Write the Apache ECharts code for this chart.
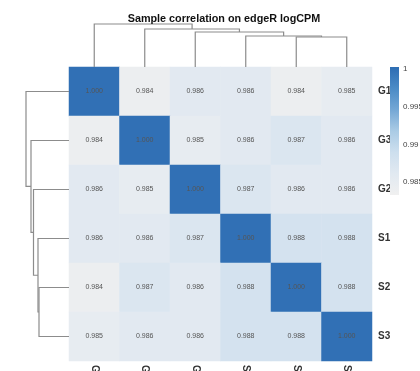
<!DOCTYPE html>
<html><head><meta charset="utf-8">
<script src="https://cdn.jsdelivr.net/npm/echarts@6/dist/echarts.min.js"></script>
<style>html,body{margin:0;padding:0;background:#fff}#c{width:420px;height:371px}</style>
</head><body><div id="c"></div>
<script>
const title = 'Sample correlation on edgeR logCPM';
const samples = ['G1','G3','G2','S1','S2','S3'];
const corrG1 = [1.000, 0.984, 0.986, 0.986, 0.984, 0.985];
const corrG3 = [0.984, 1.000, 0.985, 0.986, 0.987, 0.986];
const corrG2 = [0.986, 0.985, 1.000, 0.987, 0.986, 0.986];
const corrS1 = [0.986, 0.986, 0.987, 1.000, 0.988, 0.988];
const corrS2 = [0.984, 0.987, 0.986, 0.988, 1.000, 0.988];
const corrS3 = [0.985, 0.986, 0.986, 0.988, 0.988, 1.000];
// hclust-style merges: negative = leaf (1-based display order), positive = earlier merge; third = height
const colMerges = [[-5,-6,30],[-4,1,31],[-3,2,35],[-2,3,38],[-1,4,43]];
const rowMerges = [[-5,-6,30],[-4,1,31],[-3,2,35.5],[-2,3,38],[-1,4,43]];
const colorRange = [0.98327, 1.00027];
const colorTicks = [0.985, 0.99, 0.995, 1];
const palette = ['#f0f0f0','#e1e9f1','#cddfee','#aacbe5','#74a7d5','#4b8bc6','#2e6db3'];

const rows = [corrG1, corrG3, corrG2, corrS1, corrS2, corrS3];
const heat = [];
rows.forEach((r, i) => r.forEach((v, j) => heat.push([j, i, v])));

function dendroSegments(merges) {
  const pos = [], hgt = [];
  const segs = [];
  const get = (id) => id < 0 ? [(-id) - 0.5, 0] : [pos[id-1], hgt[id-1]];
  merges.forEach(m => {
    const a = get(m[0]), b = get(m[1]);
    segs.push([a[0], a[1], b[0], b[1], m[2]]);
    pos.push((a[0] + b[0]) / 2); hgt.push(m[2]);
  });
  return segs;
}
const colSegs = dendroSegments(colMerges);
const rowSegs = dendroSegments(rowMerges);
const lineStyle = {stroke: '#8c8c8c', lineWidth: 1.2, fill: null};

const stops = palette.map((c, i) => ({offset: i / (palette.length - 1), color: c}));

const g = (o) => Object.assign({outerBoundsMode: 'none', containLabel: false}, o);
const chart = echarts.init(document.getElementById('c'), null, {renderer: 'canvas'});
chart.setOption({
  animation: false,
  title: {text: title, left: 219, top: 9, textAlign: 'center',
    textStyle: {fontFamily: 'Liberation Sans, Arial', fontSize: 10.8, fontWeight: 'bold', color: '#111'}},
  grid: [
    g({left: 69, top: 67, width: 303, height: 294}),
    g({left: 69, top: 24, width: 303, height: 43}),
    g({left: 26, top: 67, width: 43, height: 294}),
    g({left: 390, top: 67, width: 9, height: 128})
  ],
  xAxis: [
    {gridIndex: 0, type: 'category', data: samples, axisLine: {show: false}, axisTick: {show: false},
      splitLine: {show: false},
      axisLabel: {rotate: -90, margin: 4, fontSize: 10, fontWeight: 'bold', color: '#333', fontFamily: 'Liberation Sans, Arial'}},
    {gridIndex: 1, type: 'value', min: 0, max: 6, show: false},
    {gridIndex: 2, type: 'value', min: 0, max: 43, inverse: true, show: false},
    {gridIndex: 3, type: 'value', min: 0, max: 1, show: false}
  ],
  yAxis: [
    {gridIndex: 0, type: 'category', data: samples, inverse: true, position: 'right',
      axisLine: {show: false}, axisTick: {show: false}, splitLine: {show: false},
      axisLabel: {margin: 6, fontSize: 10, fontWeight: 'bold', color: '#333', fontFamily: 'Liberation Sans, Arial'}},
    {gridIndex: 1, type: 'value', min: 0, max: 43, show: false},
    {gridIndex: 2, type: 'value', min: 0, max: 6, inverse: true, show: false},
    {gridIndex: 3, type: 'value', min: colorRange[0], max: colorRange[1], position: 'right',
      axisLine: {show: false}, axisTick: {show: false}, splitLine: {show: false},
      axisLabel: {customValues: colorTicks, margin: 4, fontSize: 8, color: '#444', fontFamily: 'Liberation Sans, Arial',
        formatter: v => String(+v.toFixed(3))}}
  ],
  visualMap: {show: false, min: colorRange[0], max: colorRange[1], seriesIndex: 0, dimension: 2,
    inRange: {color: palette}},
  series: [
    {type: 'heatmap', xAxisIndex: 0, yAxisIndex: 0, data: heat,
      itemStyle: {borderWidth: 0},
      label: {show: true, fontSize: 7, color: '#555', fontFamily: 'Liberation Sans, Arial',
        formatter: p => p.value[2].toFixed(3)},
      emphasis: {disabled: true}},
    {type: 'custom', xAxisIndex: 1, yAxisIndex: 1, data: colSegs, silent: true,
      renderItem: (params, api) => {
        const p = [api.coord([api.value(0), api.value(1)]), api.coord([api.value(0), api.value(4)]),
                   api.coord([api.value(2), api.value(4)]), api.coord([api.value(2), api.value(3)])];
        return {type: 'polyline', shape: {points: p}, style: lineStyle};
      }},
    {type: 'custom', xAxisIndex: 2, yAxisIndex: 2, data: rowSegs, silent: true,
      renderItem: (params, api) => {
        const p = [api.coord([api.value(1), api.value(0)]), api.coord([api.value(4), api.value(0)]),
                   api.coord([api.value(4), api.value(2)]), api.coord([api.value(3), api.value(2)])];
        return {type: 'polyline', shape: {points: p}, style: lineStyle};
      }},
    {type: 'custom', xAxisIndex: 3, yAxisIndex: 3, data: [[0, colorRange[0], 1, colorRange[1]]], silent: true,
      renderItem: (params, api) => {
        const a = api.coord([api.value(0), api.value(3)]);
        const b = api.coord([api.value(2), api.value(1)]);
        return {type: 'rect', shape: {x: a[0], y: a[1], width: b[0] - a[0], height: b[1] - a[1]},
          style: {fill: new echarts.graphic.LinearGradient(0, 1, 0, 0, stops)}};
      }}
  ]
});
</script></body></html>
